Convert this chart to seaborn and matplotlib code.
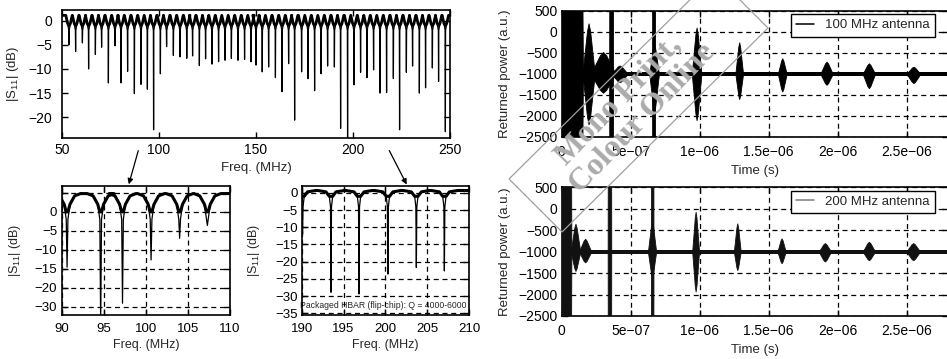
import numpy as np
import pandas as pd
import seaborn as sns
import matplotlib.pyplot as plt
from matplotlib.patches import FancyArrowPatch, Polygon

# ---------------- data ----------------
# wide sweep 50-250 MHz: dip centres (MHz) and dip depths (dB)
wide_freq = [53.6, 57.0, 60.5, 63.7, 67.2, 70.4, 73.9, 77.3, 80.4, 83.8,
             87.3, 90.7, 94.0, 97.2, 100.7, 103.9, 107.4, 110.8, 114.3, 117.3,
             120.8, 124.0, 127.3, 130.7, 134.0, 137.3, 140.7, 144.1, 147.4, 150.0,
             153.2, 156.5, 160.0, 163.4, 166.8, 169.9, 173.5, 176.8, 180.2, 183.5,
             186.9, 190.4, 193.6, 197.2, 200.5, 203.9, 207.2, 210.6, 213.9, 217.3,
             220.8, 224.0, 227.5, 230.7, 234.2, 237.4, 240.9, 244.1, 247.6]
wide_depth = [-5.0, -6.4, -4.6, -10.0, -7.0, -5.5, -12.9, -5.2, -12.9, -10.5,
              -15.1, -13.2, -14.2, -22.6, -11.0, -5.4, -7.2, -7.5, -7.8, -7.3,
              -9.3, -7.9, -9.0, -8.5, -8.2, -7.8, -8.2, -8.0, -8.5, -9.2,
              -10.6, -9.6, -11.8, -14.7, -8.9, -20.6, -10.6, -12.0, -14.5, -11.0,
              -9.4, -9.6, -22.3, -25.0, -13.3, -10.7, -11.8, -10.2, -15.0, -14.9,
              -12.0, -22.6, -10.7, -9.4, -15.0, -13.9, -9.8, -12.6, -23.0]

# zoom 90-110 MHz
z1_freq = [90.6, 94.6, 97.2, 100.6, 104.0, 107.3]
z1_depth = [-14.6, -30.0, -24.1, -12.7, -7.0, -3.6]
z1_ticks = [5, 0, -5, -10, -15, -20, -25]
z1_labels = ["", "0", "\u22125", "\u221210", "\u221215", "\u221220", "\u221230"]

# zoom 190-210 MHz
z2_freq = [190.1, 193.5, 196.85, 200.3, 203.7, 207.05]
z2_depth = [-12.0, -28.9, -29.4, -23.6, -21.7, -22.7]

# returned power: bursts (centre and half length in 1e-7 s, low / high level)
a100_centre = [0.78, 1.95, 3.0, 3.62, 4.2, 6.70, 6.70, 9.78, 12.87, 15.99, 19.2, 22.27, 25.5]
a100_half = [0.80, 0.45, 0.9, 0.14, 0.6, 0.11, 0.35, 0.35, 0.28, 0.32, 0.45, 0.45, 0.5]
a100_low = [-30000, -2200, -1450, -30000, -1200, -30000, -1900, -2100, -1600, -1420, -1260, -1340, -1220]
a100_high = [30000, 200, -480, 30000, -800, 30000, -300, 100, -250, -630, -710, -750, -830]

a200_centre = [0.36, 1.0, 1.7, 3.5, 6.6, 6.55, 9.71, 12.73, 15.94, 19.08, 22.27, 25.48]
a200_half = [0.38, 0.35, 0.45, 0.13, 0.09, 0.3, 0.25, 0.25, 0.3, 0.45, 0.45, 0.5]
a200_low = [-30000, -1450, -1250, -30000, -30000, -1600, -1930, -1430, -1270, -1230, -1200, -1200]
a200_high = [30000, -350, -700, 30000, 30000, -300, -70, -340, -690, -800, -770, -800]

power_base = -1000
power_noise = 45
time_ticks = [0, 5e-7, 1e-6, 1.5e-6, 2e-6, 2.5e-6]
time_labels = ["0", "5e\u221207", "1e\u221206", "1.5e\u221206", "2e\u221206", "2.5e\u221206"]
power_ticks = [500, 0, -500, -1000, -1500, -2000, -2500]

# ---------------- style ----------------
sns.set_style("ticks")
plt.rcParams["font.family"] = ["Liberation Sans", "DejaVu Sans"]
plt.rcParams["mathtext.default"] = "regular"
plt.rcParams["axes.linewidth"] = 1.2
plt.rcParams["axes.edgecolor"] = "black"
plt.rcParams["xtick.color"] = "black"
plt.rcParams["ytick.color"] = "black"

fig = plt.figure(figsize=(9.47, 3.59), dpi=100)
ax_wide = fig.add_axes([0.0655, 0.6156, 0.4097, 0.3565])
ax_z1 = fig.add_axes([0.0655, 0.1226, 0.1774, 0.3593])
ax_z2 = fig.add_axes([0.3186, 0.1226, 0.1767, 0.3593])
ax_p1 = fig.add_axes([0.5931, 0.6184, 0.4079, 0.3518])
ax_p2 = fig.add_axes([0.5931, 0.1198, 0.4079, 0.3585])


def dip_trace(freqs, depths, offsets, levels, span):
    xs, ys = [span[0]], [levels[0]]
    for f, d in zip(freqs, depths):
        for off, lev in zip(offsets, levels):
            xs.append(f + off)
            ys.append(d if lev is None else lev)
    xs.append(span[1])
    ys.append(levels[-1])
    return pd.DataFrame({"freq": xs, "s11": ys})


def draw_spectrum(ax, df, floor, band_lw):
    sns.lineplot(data=df, x="freq", y="s11", ax=ax, color="black", lw=0.9,
                 estimator=None, sort=False)
    band = df.assign(s11=df["s11"].clip(lower=floor))
    sns.lineplot(data=band, x="freq", y="s11", ax=ax, color="black", lw=band_lw,
                 estimator=None, sort=False)


def style_axes(ax, xpad, ypad, size):
    ax.tick_params(direction="in", top=True, right=True, length=4, width=1,
                   labelsize=size)
    ax.tick_params(axis="x", pad=xpad)
    ax.tick_params(axis="y", pad=ypad)
    for s in ax.spines.values():
        s.set_visible(True)


def dashed_grid(ax):
    ax.grid(True, color="black", lw=0.9, linestyle=(0, (4, 3)))
    ax.set_axisbelow(False)


# ---------------- wide sweep ----------------
wide_df = dip_trace(wide_freq, wide_depth,
                    [-1.65, -0.7, -0.12, 0, 0.12, 0.7, 1.65],
                    [1.1, -0.6, -2.0, None, -2.0, -0.6, 1.1], (50, 250))
draw_spectrum(ax_wide, wide_df, -1.0, 2.0)
ax_wide.set_xlim(50, 250)
ax_wide.set_ylim(-24.3, 2.2)
ax_wide.set_xticks([50, 100, 150, 200, 250])
ax_wide.set_yticks([0, -5, -10, -15, -20])
ax_wide.set_xlabel("Freq. (MHz)", fontsize=9.5, labelpad=4)
ax_wide.set_ylabel("$|S_{11}|$ (dB)", fontsize=9.5)
ax_wide.yaxis.set_label_coords(-0.105, 0.5)
style_axes(ax_wide, 3.5, 7, 10)

# ---------------- zoom 90-110 MHz ----------------
z1_df = dip_trace(z1_freq, z1_depth,
                  [-1.6, -0.9, -0.35, -0.1, 0, 0.1, 0.35, 0.9, 1.6],
                  [4.8, 4.2, 2.0, -2.0, None, -2.0, 2.0, 4.2, 4.8], (90, 110))
draw_spectrum(ax_z1, z1_df, 0.0, 2.2)
ax_z1.set_xlim(90, 110)
ax_z1.set_ylim(-27.2, 6.8)
ax_z1.set_xticks([90, 95, 100, 105, 110])
ax_z1.set_yticks(z1_ticks)
ax_z1.set_yticklabels(z1_labels)
ax_z1.set_xlabel("Freq. (MHz)", fontsize=9, labelpad=3)
ax_z1.set_ylabel("$|S_{11}|$ (dB)", fontsize=9)
ax_z1.yaxis.set_label_coords(-0.235, 0.5)
style_axes(ax_z1, 6, 3.5, 9.5)
dashed_grid(ax_z1)

# ---------------- zoom 190-210 MHz ----------------
z2_df = dip_trace(z2_freq, z2_depth,
                  [-1.6, -0.6, -0.2, -0.06, 0, 0.06, 0.2, 0.6, 1.6],
                  [0.7, 0.3, -1.0, -4.0, None, -4.0, -1.0, 0.3, 0.7], (190, 210))
draw_spectrum(ax_z2, z2_df, -1.0, 2.2)
ax_z2.set_xlim(190, 210)
ax_z2.set_ylim(-35.5, 2.0)
ax_z2.set_xticks([190, 195, 200, 205, 210])
ax_z2.set_yticks(list(range(0, -36, -5)))
ax_z2.set_xlabel("Freq. (MHz)", fontsize=9, labelpad=3)
ax_z2.set_ylabel("$|S_{11}|$ (dB)", fontsize=9)
ax_z2.yaxis.set_label_coords(-0.237, 0.5)
style_axes(ax_z2, 6, 3, 9.5)
dashed_grid(ax_z2)
ax_z2.text(0.49, 0.07, "Packaged HBAR (flip-chip): Q = 4000-6000",
           transform=ax_z2.transAxes, ha="center", va="center", fontsize=6.2,
           zorder=1, bbox=dict(facecolor="white", edgecolor="none", pad=1.0))

# ---------------- returned power ----------------
t_max = 2.8e-6
spindle_pos = [-1, -0.6, -0.25, 0, 0.25, 0.6, 1]
spindle_amp = [0, 0.45, 0.85, 1, 0.85, 0.45, 0]


def draw_power(ax, centre, half, low, high, colour, line_colour, label):
    ax.fill_between([0, t_max], power_base - power_noise, power_base + power_noise,
                    color=colour, lw=0, zorder=3)
    for c, h, lo, hi in zip(centre, half, low, high):
        ts = [(c + p * h) * 1e-7 for p in spindle_pos]
        lows = [power_base + a * (lo - power_base) for a in spindle_amp]
        highs = [power_base + a * (hi - power_base) for a in spindle_amp]
        ax.fill_between(ts, lows, highs, color=colour, lw=0.6, zorder=3)
    sns.lineplot(x=[0, t_max], y=[power_base, power_base], ax=ax, color=line_colour,
                 lw=1.1, label=label, zorder=2)
    ax.set_xlim(0, t_max)
    ax.set_ylim(-2500, 500)
    ax.set_xticks(time_ticks)
    ax.set_xticklabels(time_labels)
    ax.set_yticks(power_ticks)
    ax.set_xlabel("Time (s)", fontsize=9.5, labelpad=4)
    ax.set_ylabel("Returned power (a.u.)", fontsize=9.5)
    ax.yaxis.set_label_coords(-0.13, 0.5)
    style_axes(ax, 6, 3, 10)
    dashed_grid(ax)
    ax.legend(loc="upper right", bbox_to_anchor=(0.966, 0.975), borderaxespad=0,
              fancybox=False, edgecolor="black", framealpha=1, fontsize=9.5,
              handlelength=1.4, borderpad=0.4).get_frame().set_linewidth(1.0)


draw_power(ax_p1, a100_centre, a100_half, a100_low, a100_high, "black", "black",
           "100 MHz antenna")
draw_power(ax_p2, a200_centre, a200_half, a200_low, a200_high, "#111111", "#7a7a7a",
           "200 MHz antenna")

# ---------------- arrows from the wide sweep to the zooms ----------------
for start, end in [((0.1468, 0.5877), (0.1352, 0.4791)), ((0.4097, 0.5877), (0.4308, 0.4791))]:
    fig.add_artist(FancyArrowPatch(start, end, transform=fig.transFigure,
                                   arrowstyle="-|>", mutation_scale=8,
                                   color="black", lw=0.9))

# ---------------- watermark ----------------
wm = dict(rotation=46, ha="center", va="center", fontsize=23, fontweight="bold",
          family=["Liberation Serif", "DejaVu Serif"], color="#ababab", zorder=10,
          transform=fig.transFigure)
fig.text(0.6526, 0.7214, "Mono Print,", **wm)
fig.text(0.6784, 0.6713, "Colour Online", **wm)
fig.add_artist(Polygon([(0.5375, 0.5014), (0.5935, 0.3538), (0.8110, 0.9220), (0.7550, 1.0696)],
                       closed=True, fill=False, edgecolor="#a0a0a0", lw=0.9,
                       transform=fig.transFigure, zorder=10))

fig.savefig("out.png", dpi=100)
